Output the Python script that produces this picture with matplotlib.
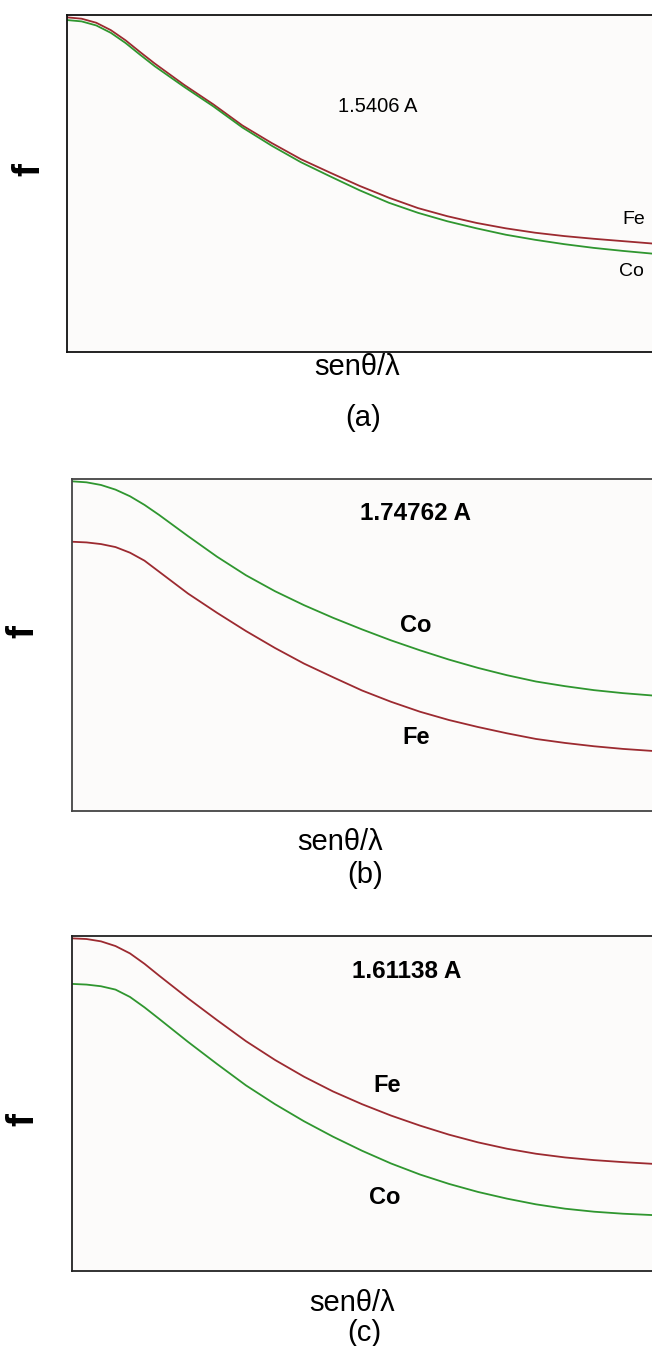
import matplotlib
matplotlib.use("Agg")
import matplotlib.pyplot as plt

plt.rcParams['font.family'] = ['Liberation Sans', 'DejaVu Sans']

W, H = 652, 1346

# sin(theta)/lambda, arbitrary units (0 at the left frame, 1 at the right edge)
s = [0.0, 0.025, 0.05, 0.075, 0.1, 0.125, 0.15, 0.2, 0.25, 0.3, 0.35, 0.4,
     0.45, 0.5, 0.55, 0.6, 0.65, 0.7, 0.75, 0.8, 0.85, 0.9, 0.95, 1.0]

# (a) 1.5406 A
fe_a = [0.993, 0.989, 0.977, 0.955, 0.925, 0.890, 0.856, 0.793, 0.735, 0.672, 0.620, 0.572,
        0.532, 0.493, 0.458, 0.427, 0.403, 0.383, 0.367, 0.354, 0.344, 0.336, 0.329, 0.322]
co_a = [0.985, 0.981, 0.969, 0.947, 0.917, 0.882, 0.848, 0.787, 0.729, 0.666, 0.612, 0.563,
        0.521, 0.480, 0.443, 0.413, 0.388, 0.367, 0.348, 0.333, 0.320, 0.309, 0.300, 0.292]
# (b) 1.74762 A
co_b = [0.993, 0.990, 0.982, 0.968, 0.948, 0.922, 0.892, 0.828, 0.766, 0.710, 0.662, 0.620,
        0.582, 0.547, 0.514, 0.484, 0.456, 0.431, 0.409, 0.390, 0.376, 0.364, 0.355, 0.348]
fe_b = [0.811, 0.809, 0.804, 0.795, 0.778, 0.754, 0.721, 0.655, 0.597, 0.542, 0.491, 0.444,
        0.403, 0.363, 0.329, 0.299, 0.274, 0.253, 0.234, 0.217, 0.205, 0.195, 0.187, 0.181]
# (c) 1.61138 A
fe_c = [0.993, 0.991, 0.984, 0.970, 0.948, 0.917, 0.882, 0.814, 0.749, 0.686, 0.630, 0.580,
        0.536, 0.498, 0.464, 0.434, 0.407, 0.384, 0.365, 0.350, 0.339, 0.331, 0.325, 0.320]
co_c = [0.857, 0.855, 0.850, 0.840, 0.818, 0.787, 0.753, 0.684, 0.618, 0.554, 0.498, 0.447,
        0.401, 0.359, 0.321, 0.288, 0.260, 0.236, 0.216, 0.199, 0.186, 0.177, 0.171, 0.167]

FE_COLOR = '#9c2a30'
CO_COLOR = '#2f962f'


def fx(x):
    return x / W


def fy(y):
    return 1 - y / H


def panel(fig, left, top, bottom, spine_color):
    ax = fig.add_axes([fx(left), fy(bottom), fx(W - left), (bottom - top) / H])
    ax.set_xlim(0, 1)
    ax.set_ylim(0, 1)
    ax.set_xticks([])
    ax.set_yticks([])
    ax.set_facecolor('#fcfbfa')
    ax.spines['right'].set_visible(False)
    for side in ('left', 'top', 'bottom'):
        ax.spines[side].set_color(spine_color)
        ax.spines[side].set_linewidth(1.3)
    return ax


fig = plt.figure(figsize=(W / 100, H / 100), dpi=100)
big = 21

# panel (a)
ax = panel(fig, 67, 15, 352, '#111111')
ax.plot(s, fe_a, color=FE_COLOR, lw=1.3)
ax.plot(s, co_a, color=CO_COLOR, lw=1.3)
fig.text(fx(378), fy(107), '1.5406 A', fontsize=14.5, ha='center', va='center')
fig.text(fx(634), fy(219), 'Fe', fontsize=14, ha='center', va='center')
fig.text(fx(631), fy(272), 'Co', fontsize=14, ha='center', va='center')
fig.text(fx(29), fy(170), 'f', fontsize=28, fontweight='bold', rotation=90, ha='center', va='center')
fig.text(fx(357), fy(367), 'senθ/λ', fontsize=big, ha='center', va='center')
fig.text(fx(363), fy(418), '(a)', fontsize=big, ha='center', va='center')

# panel (b)
ax = panel(fig, 72, 479, 811, '#444444')
ax.plot(s, co_b, color=CO_COLOR, lw=1.3)
ax.plot(s, fe_b, color=FE_COLOR, lw=1.3)
fig.text(fx(416), fy(513), '1.74762 A', fontsize=17.5, fontweight='bold', ha='center', va='center')
fig.text(fx(416), fy(625), 'Co', fontsize=17, fontweight='bold', ha='center', va='center')
fig.text(fx(416), fy(737), 'Fe', fontsize=17, fontweight='bold', ha='center', va='center')
fig.text(fx(23), fy(632), 'f', fontsize=28, fontweight='bold', rotation=90, ha='center', va='center')
fig.text(fx(340), fy(842), 'senθ/λ', fontsize=big, ha='center', va='center')
fig.text(fx(365), fy(875), '(b)', fontsize=big, ha='center', va='center')

# panel (c)
ax = panel(fig, 72, 936, 1271, '#222222')
ax.plot(s, fe_c, color=FE_COLOR, lw=1.3)
ax.plot(s, co_c, color=CO_COLOR, lw=1.3)
fig.text(fx(407), fy(972), '1.61138 A', fontsize=17.5, fontweight='bold', ha='center', va='center')
fig.text(fx(387), fy(1086), 'Fe', fontsize=17, fontweight='bold', ha='center', va='center')
fig.text(fx(385), fy(1197), 'Co', fontsize=17, fontweight='bold', ha='center', va='center')
fig.text(fx(23), fy(1120), 'f', fontsize=28, fontweight='bold', rotation=90, ha='center', va='center')
fig.text(fx(352), fy(1303), 'senθ/λ', fontsize=big, ha='center', va='center')
fig.text(fx(364), fy(1333), '(c)', fontsize=big, ha='center', va='center')

fig.savefig('out.png', dpi=100, facecolor='white')
